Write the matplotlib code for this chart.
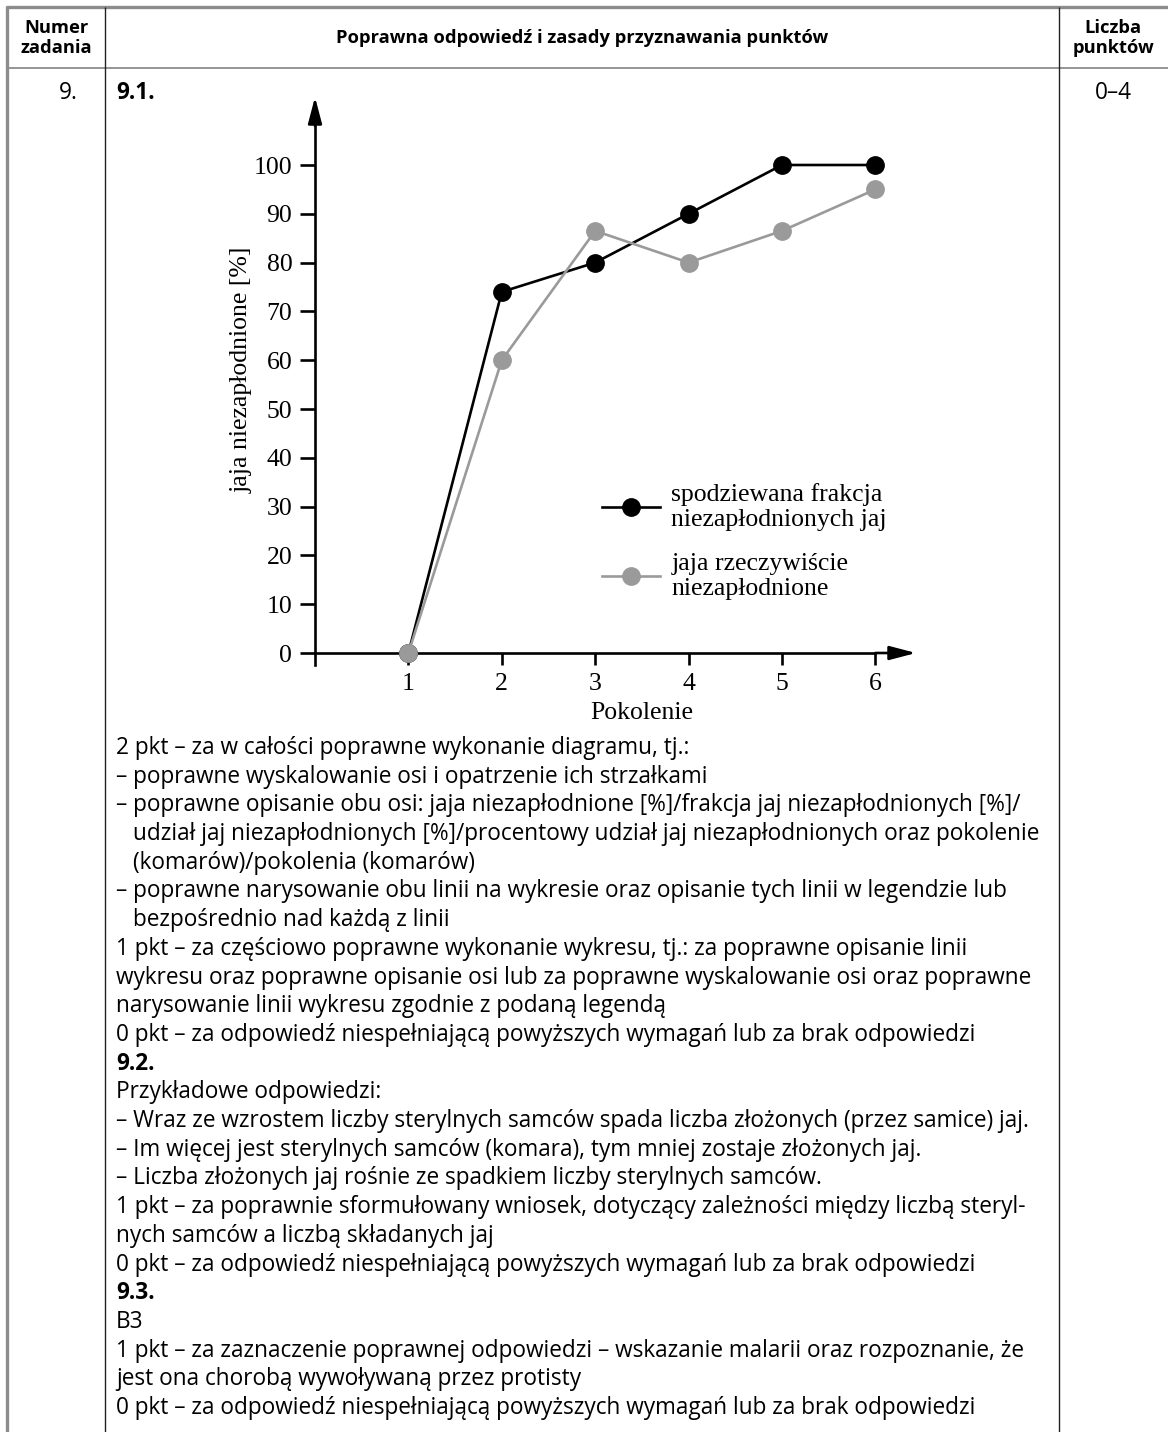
import matplotlib
matplotlib.use("Agg")
import matplotlib.pyplot as plt
from matplotlib.lines import Line2D

W, H = 1168, 1432
DPI = 100

# ---------------- data ----------------
generations = [1, 2, 3, 4, 5, 6]
expected = [0, 74, 80, 90, 100, 100]
actual = [0, 60, 86.5, 80, 86.5, 95]
y_ticks = [0, 10, 20, 30, 40, 50, 60, 70, 80, 90, 100]
series_labels = ["spodziewana frakcja\nniezapłodnionych jaj",
                 "jaja rzeczywiście\nniezapłodnione"]
y_label = "jaja niezapłodnione [%]"
x_label = "Pokolenie"

header_cols = ["Numer\nzadania", "Poprawna odpowiedź i zasady przyznawania punktów", "Liczba\npunktów"]
task_no = "9."
points = "0–4"
sub_title = "9.1."

# (text, bold, indented)
body_lines = [
    ("2 pkt – za w całości poprawne wykonanie diagramu, tj.:", False, False),
    ("– poprawne wyskalowanie osi i opatrzenie ich strzałkami", False, False),
    ("– poprawne opisanie obu osi: jaja niezapłodnione [%]/frakcja jaj niezapłodnionych [%]/", False, False),
    ("udział jaj niezapłodnionych [%]/procentowy udział jaj niezapłodnionych oraz pokolenie", False, True),
    ("(komarów)/pokolenia (komarów)", False, True),
    ("– poprawne narysowanie obu linii na wykresie oraz opisanie tych linii w legendzie lub", False, False),
    ("bezpośrednio nad każdą z linii", False, True),
    ("1 pkt – za częściowo poprawne wykonanie wykresu, tj.: za poprawne opisanie linii", False, False),
    ("wykresu oraz poprawne opisanie osi lub za poprawne wyskalowanie osi oraz poprawne", False, False),
    ("narysowanie linii wykresu zgodnie z podaną legendą", False, False),
    ("0 pkt – za odpowiedź niespełniającą powyższych wymagań lub za brak odpowiedzi", False, False),
    ("9.2.", True, False),
    ("Przykładowe odpowiedzi:", False, False),
    ("– Wraz ze wzrostem liczby sterylnych samców spada liczba złożonych (przez samice) jaj.", False, False),
    ("– Im więcej jest sterylnych samców (komara), tym mniej zostaje złożonych jaj.", False, False),
    ("– Liczba złożonych jaj rośnie ze spadkiem liczby sterylnych samców.", False, False),
    ("1 pkt – za poprawnie sformułowany wniosek, dotyczący zależności między liczbą steryl-", False, False),
    ("nych samców a liczbą składanych jaj", False, False),
    ("0 pkt – za odpowiedź niespełniającą powyższych wymagań lub za brak odpowiedzi", False, False),
    ("9.3.", True, False),
    ("B3", False, False),
    ("1 pkt – za zaznaczenie poprawnej odpowiedzi – wskazanie malarii oraz rozpoznanie, że", False, False),
    ("jest ona chorobą wywoływaną przez protisty", False, False),
    ("0 pkt – za odpowiedź niespełniającą powyższych wymagań lub za brak odpowiedzi", False, False),
]

# ---------------- figure ----------------
fig = plt.figure(figsize=(W / DPI, H / DPI), dpi=DPI)
fig.patch.set_facecolor("white")

def fx(x):
    return x / W

def fy(y):
    return 1 - y / H

SANS = ["Open Sans", "DejaVu Sans"]
SERIF = ["Liberation Serif", "DejaVu Serif"]

# --- table lines ---
def hline(y, x0, x1, color, lw):
    fig.add_artist(Line2D([fx(x0), fx(x1)], [fy(y), fy(y)], color=color, lw=lw,
                          solid_capstyle="butt"))

def vline(x, y0, y1, color, lw):
    fig.add_artist(Line2D([fx(x), fx(x)], [fy(y0), fy(y1)], color=color, lw=lw,
                          solid_capstyle="butt"))

hline(7, 6, W, "#8c8c8c", 2.4)
vline(7, 6, H, "#8c8c8c", 2.4)
hline(68, 7, W, "#8c8c8c", 1.3)
vline(105, 7, H, "#222222", 1.0)
vline(1059, 7, H, "#222222", 1.0)

# --- header ---
hdr_fs = 13.2
fig.text(fx(56), fy(38), header_cols[0], ha="center", va="center", fontsize=hdr_fs,
         fontweight="bold", family=SANS, linespacing=1.1)
fig.text(fx(582), fy(38), header_cols[1], ha="center", va="center", fontsize=hdr_fs,
         fontweight="bold", family=SANS)
fig.text(fx(1113), fy(38), header_cols[2], ha="center", va="center", fontsize=hdr_fs,
         fontweight="bold", family=SANS, linespacing=1.1)

# --- body text: fit font size so the longest example line spans its width ---
fig.canvas.draw()
renderer = fig.canvas.get_renderer()
probe = fig.text(0, 0, body_lines[13][0], fontsize=14, family=SANS)
wpx = probe.get_window_extent(renderer).width
probe.remove()
body_fs = 14 * (1038 - 116) / wpx

fig.text(fx(68), fy(93), task_no, ha="center", va="center", fontsize=body_fs, family=SANS)
fig.text(fx(1113), fy(93), points, ha="center", va="center", fontsize=body_fs, family=SANS)
fig.text(fx(116), fy(93), sub_title, ha="left", va="center", fontsize=body_fs,
         fontweight="bold", family=SANS)

dash_probe = fig.text(0, 0, "– ", fontsize=body_fs, family=SANS)
indent = dash_probe.get_window_extent(renderer).width
dash_probe.remove()

first_y, last_y = 748, 1408
step = (last_y - first_y) / (len(body_lines) - 1)
for i, (txt, bold, ind) in enumerate(body_lines):
    x0 = 116 + (indent if ind else 0)
    fig.text(fx(x0), fy(first_y + i * step), txt, ha="left", va="center",
             fontsize=body_fs, fontweight="bold" if bold else "normal", family=SANS)

# --- chart axes (pixel mapping: x=0 -> 315px, 93.4 px/unit; y=0 -> 653px, 4.88 px/unit) ---
ax_l, ax_r, ax_t, ax_b = 280, 960, 85, 690
ax = fig.add_axes([fx(ax_l), fy(ax_b), (ax_r - ax_l) / W, (ax_b - ax_t) / H])
ax.set_xlim((ax_l - 315) / 93.4, (ax_r - 315) / 93.4)
ax.set_ylim((653 - ax_b) / 4.88, (653 - ax_t) / 4.88)
ax.patch.set_alpha(0)

for s in ["top", "right"]:
    ax.spines[s].set_visible(False)
ax.spines["left"].set_position(("data", 0))
ax.spines["bottom"].set_position(("data", 0))
ax.spines["left"].set_bounds(-2.5, 108)
ax.spines["bottom"].set_bounds(0, 6.0)
for s in ["left", "bottom"]:
    ax.spines[s].set_linewidth(1.9)
    ax.spines[s].set_color("black")

x_tip = (916 - 315) / 93.4
y_tip = (653 - 97) / 4.88
ax.annotate("", xy=(x_tip, 0), xytext=(6.0, 0),
            arrowprops=dict(arrowstyle="-|>,head_length=1.6,head_width=0.42",
                            color="black", lw=1.9, shrinkA=0, shrinkB=0))
ax.annotate("", xy=(0, y_tip), xytext=(0, 108),
            arrowprops=dict(arrowstyle="-|>,head_length=1.6,head_width=0.42",
                            color="black", lw=1.9, shrinkA=0, shrinkB=0))

CH_FS = 18.5
ax.set_xticks(generations)
ax.set_xticklabels([str(g) for g in generations])
ax.set_yticks(y_ticks)
ax.set_yticklabels([str(v) for v in y_ticks])
ax.tick_params(axis="y", direction="out", length=10.8, width=1.9, pad=5.5,
               labelsize=CH_FS)
ax.tick_params(axis="x", direction="out", length=8.5, width=1.9, pad=6,
               labelsize=CH_FS)
for lab in ax.get_xticklabels() + ax.get_yticklabels():
    lab.set_family(SERIF)

ax.set_xlabel(x_label, family=SERIF, fontsize=CH_FS)
ax.xaxis.set_label_coords((642 - ax_l) / (ax_r - ax_l), 1 - (713 - ax_t) / (ax_b - ax_t))
ax.xaxis.label.set_va("center")
ax.set_ylabel(y_label, family=SERIF, fontsize=CH_FS)
ax.yaxis.set_label_coords((242 - ax_l) / (ax_r - ax_l), 1 - (370 - ax_t) / (ax_b - ax_t))
ax.yaxis.label.set_va("center")

GRAY = "#9a9a9a"
l1, = ax.plot(generations, expected, color="black", lw=1.9, marker="o", ms=12.5,
              mec="black", mfc="black", zorder=3, clip_on=False)
l2, = ax.plot(generations, actual, color=GRAY, lw=1.9, marker="o", ms=12.5,
              mec=GRAY, mfc=GRAY, zorder=4, clip_on=False)
l1.set_label(series_labels[0])
l2.set_label(series_labels[1])

leg = ax.legend(handles=[l1, l2], loc="upper left",
                bbox_to_anchor=((602 - ax_l) / (ax_r - ax_l), 1 - (483 - ax_t) / (ax_b - ax_t)),
                frameon=False, prop={"family": SERIF, "size": CH_FS},
                handlelength=2.25, handletextpad=0.45, labelspacing=0.85,
                borderaxespad=0, borderpad=0)
for t in leg.get_texts():
    t.set_linespacing(1.18)

fig.savefig("out.png", dpi=DPI, facecolor="white")
